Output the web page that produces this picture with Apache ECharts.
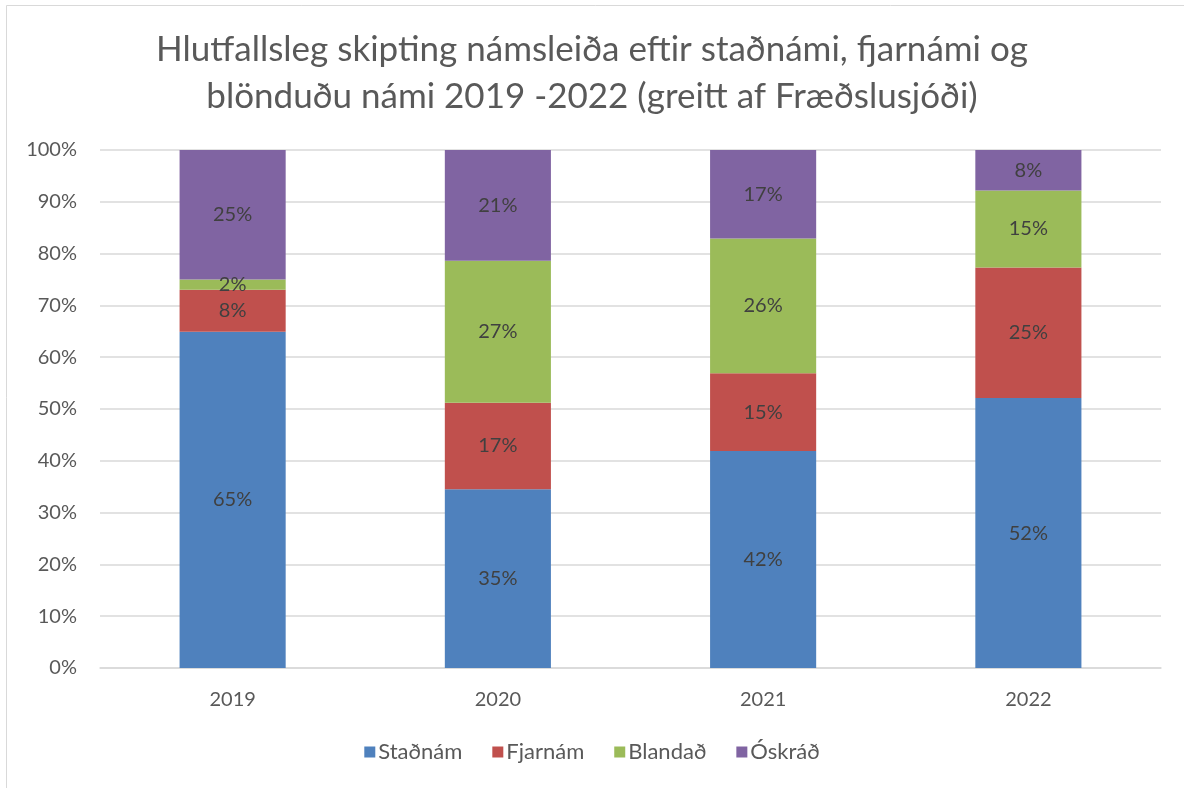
<!DOCTYPE html>
<html>
<head>
<meta charset="utf-8">
<script src="https://cdn.jsdelivr.net/npm/echarts@6/dist/echarts.min.js"></script>
<style>
  html, body { margin: 0; padding: 0; background: #fff; }
  #chart { width: 1184px; height: 788px; }
</style>
</head>
<body>
<div id="chart"></div>
<script>
// ár
var years = ['2019', '2020', '2021', '2022'];
// hlutfall (%) lesið af myndinni
var stadnam = [64.9, 34.5, 41.9, 52.1];
var fjarnam = [8.1, 16.7, 15.0, 25.2];
var blandad = [2.0, 27.4, 26.0, 14.9];
var oskrad = [25.0, 21.4, 17.1, 7.8];

var seriesNames = ['Staðnám', 'Fjarnám', 'Blandað', 'Óskráð'];
var seriesData = [stadnam, fjarnam, blandad, oskrad];
var colors = ['#4F81BD', '#C0504D', '#9BBB59', '#8064A2'];

var font = 'Lato';

function makeSeries(i) {
    return {
        name: seriesNames[i],
        type: 'bar',
        stack: 'total',
        barWidth: '40%',
        data: seriesData[i],
        itemStyle: { color: colors[i] },
        label: {
            show: true,
            position: 'inside',
            color: '#404040',
            fontFamily: font,
            fontSize: 20,
            formatter: function (p) { return Math.round(p.value) + '%'; }
        }
    };
}

var series = [];
for (var i = 0; i < seriesNames.length; i++) {
    series.push(makeSeries(i));
}

var myChart = echarts.init(document.getElementById('chart'), null, { renderer: 'canvas' });
var option = {
    backgroundColor: '#fff',
    animation: false,
    color: colors,
    title: {
        text: 'Hlutfallsleg skipting námsleiða eftir staðnámi, fjarnámi og\nblönduðu námi 2019 -2022 (greitt af Fræðslusjóði)',
        left: 'center',
        top: 21,
        textStyle: {
            color: '#595959',
            fontFamily: font,
            fontWeight: 'normal',
            fontSize: 35,
            lineHeight: 47
        }
    },
    graphic: [{
        type: 'rect',
        shape: { x: 6.5, y: 5.5, width: 1250, height: 850 },
        style: { fill: 'none', stroke: '#D9D9D9', lineWidth: 1 },
        silent: true
    }],
    legend: {
        data: seriesNames,
        bottom: 20,
        left: 'center',
        itemWidth: 11,
        itemHeight: 11,
        itemGap: 30,
        icon: 'rect',
        textStyle: { color: '#595959', fontFamily: font, fontSize: 22, padding: [0, 0, 0, -2] }
    },
    grid: { left: 100, right: 23, top: 150, bottom: 120 },
    xAxis: {
        type: 'category',
        data: years,
        axisTick: { show: false },
        axisLine: { lineStyle: { color: '#D9D9D9', width: 1.5 } },
        axisLabel: { color: '#595959', fontFamily: font, fontSize: 20, margin: 22 }
    },
    yAxis: {
        type: 'value',
        min: 0,
        max: 100,
        interval: 10,
        axisLine: { show: false },
        axisTick: { show: false },
        axisLabel: { color: '#595959', fontFamily: font, fontSize: 20, margin: 23, formatter: '{value}%' },
        splitLine: { lineStyle: { color: '#D9D9D9', width: 1.5 } }
    },
    series: series
};
myChart.setOption(option);
</script>
</body>
</html>
